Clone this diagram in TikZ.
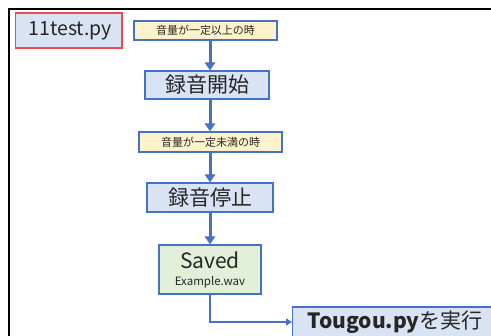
\documentclass[tikz,border=0pt]{standalone}
\usepackage{fontspec}
\setmainfont{Noto Sans CJK JP}
\usetikzlibrary{arrows.meta}
\definecolor{bfill}{HTML}{DAE3F3}
\definecolor{bedge}{HTML}{4472C4}
\definecolor{yfill}{HTML}{FFF2CC}
\definecolor{gfill}{HTML}{E2F0D9}
\definecolor{redge}{HTML}{F04850}
\definecolor{txt}{HTML}{262626}
\newcommand{\fsz}[1]{\fontsize{#1}{#1}\selectfont}
\begin{document}
\begin{tikzpicture}[x=1pt,y=-1pt,
  boxbase/.style={line width=1.4pt, inner sep=0pt, text=txt, anchor=center},
  bluebox/.style={boxbase, draw=bedge, fill=bfill},
  condbox/.style={boxbase, draw=bedge, fill=yfill, font=\fsz{11}},
  savebox/.style={boxbase, draw=bedge, fill=gfill, align=center},
  redbox/.style={boxbase, draw=redge, line width=1.6pt, fill=bfill},
  arr/.style={draw=bedge, line width=3pt, -{Triangle[width=10.5pt,length=8pt]}},
  arrthin/.style={draw=bedge, line width=2pt, -{Triangle[width=7pt,length=6pt]}}]
\useasboundingbox (0,0) rectangle (491,336);
\fill[white] (0,0) rectangle (491,336);
\draw[line width=2pt] (491,9) -- (9,9) -- (9,336);
\coordinate (spine) at (210,0);
\node[redbox, minimum width=106.5pt, minimum height=35pt, font=\fsz{19.5}] (title) at (68.75,30.5) {\hspace{3pt}11test.py};
\node[condbox, minimum width=143pt, minimum height=19pt] (c1) at (205.5,30.5) {音量が一定以上の時};
\node[bluebox, minimum width=124pt, minimum height=28pt, font=\fsz{21}] (start) at (207,85) {録音開始};
\node[condbox, minimum width=143pt, minimum height=20pt] (c2) at (210.5,142) {音量が一定未満の時};
\node[bluebox, minimum width=126pt, minimum height=29pt, font=\fsz{21}] (stop) at (210,197.5) {録音停止};
\node[savebox, minimum width=102pt, minimum height=49pt] (saved) at (210,269.5) {{\fsz{21}Saved}\\[5pt]{\fsz{11.5}Example.wav}};
\node[bluebox, anchor=west, minimum height=30pt, inner xsep=15pt, font=\fsz{21}] (tougou) at (292,322) {\textbf{Tougou.py}を実行};
\draw[arr] (c1.south -| spine) -- (start.north -| spine);
\draw[arr] (start.south -| spine) -- (c2.north -| spine);
\draw[arr] (c2.south -| spine) -- (stop.north -| spine);
\draw[arr] (stop.south -| spine) -- (saved.north -| spine);
\draw[arrthin] (saved.south -| spine) |- (tougou.west);
\end{tikzpicture}
\end{document}
